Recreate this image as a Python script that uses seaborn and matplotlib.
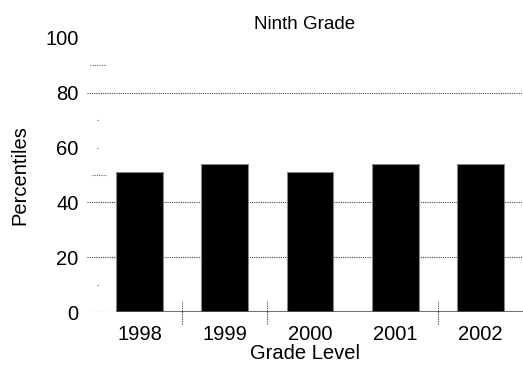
import matplotlib
matplotlib.use("Agg")
import matplotlib.pyplot as plt
import matplotlib.transforms as mtransforms
import seaborn as sns
import pandas as pd

# data
years = ["1998", "1999", "2000", "2001", "2002"]
percentiles = [51, 54, 51, 54, 54]

df = pd.DataFrame({"Grade Level": years, "Percentiles": percentiles})

sns.set_style("white")
plt.rcParams['font.family'] = ['Liberation Sans', 'DejaVu Sans']
plt.rcParams['text.color'] = 'black'
plt.rcParams['axes.labelcolor'] = 'black'
plt.rcParams['xtick.color'] = 'black'
plt.rcParams['ytick.color'] = 'black'

fig = plt.figure(figsize=(5.23, 3.66), dpi=100)
ax = fig.add_axes([0.166, 0.1475, 0.834, 0.749])

# dotted grid lines
for v in [20, 40, 80]:
    ax.axhline(v, color="#444444", lw=0.8, ls=(0, (1, 1)), zorder=0)
ax.axhline(0, xmax=0.07, color="#444444", lw=0.8, ls=(0, (1, 1)), zorder=0)
# stray short dotted marks near the y axis
for v, x0, x1 in [(90, 0.007, 0.045), (50, 0.012, 0.045), (70, 0.024, 0.027),
                  (60, 0.024, 0.027), (10, 0.024, 0.027)]:
    ax.axhline(v, xmin=x0, xmax=x1, color="#666666", lw=0.8, ls=(0, (1, 1)), zorder=0)

sns.barplot(data=df, x="Grade Level", y="Percentiles", color="black",
            width=0.55, edgecolor="#888888", linewidth=0.8, ax=ax, zorder=2)

# x axis line
ax.axhline(0, xmin=0.07, color="#555555", lw=1.2, zorder=3)

# dotted separators between some of the categories
trans = mtransforms.blended_transform_factory(ax.transData, ax.transAxes)
for xs in [0.5, 1.5, 3.5]:
    ax.plot([xs, xs], [-0.045, 0.04], transform=trans, color="#444444",
            lw=0.8, ls=(0, (1, 1)), clip_on=False, zorder=3)

ax.set_ylim(0, 100)
ax.set_xlim(-0.62, 4.5)
ax.set_yticks([0, 20, 40, 60, 80, 100])
ax.tick_params(axis="both", length=0, labelsize=14.5)
ax.tick_params(axis="x", pad=9)
ax.tick_params(axis="y", pad=6)
for s in ax.spines.values():
    s.set_visible(False)

ax.set_title("Ninth Grade", fontsize=13.5, pad=6.5)
ax.set_xlabel("Grade Level", fontsize=14.5, labelpad=0)
ax.set_ylabel("Percentiles", fontsize=14.5, labelpad=11)

fig.savefig("out.png", dpi=100)
